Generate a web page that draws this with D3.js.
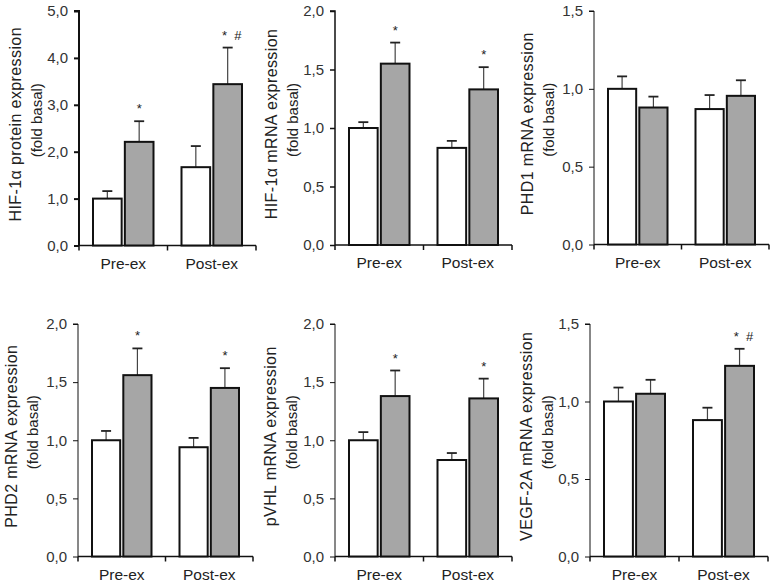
<!DOCTYPE html>
<html><head><meta charset="utf-8">
<script src="https://cdn.jsdelivr.net/npm/d3@7"></script>
<style>body{margin:0;background:#fff}svg{display:block}text{font-family:"Liberation Sans",Arial,sans-serif}</style>
</head><body><svg id="c" width="773" height="586"></svg>
<script>
const categories = ["Pre-ex", "Post-ex"];
const series = ["control", "treated"];
// values [pre-white, pre-gray], [post-white, post-gray]
const hif1aProtein     = [[1.00, 2.21], [1.67, 3.44]];
const hif1aProteinErr  = [[0.16, 0.44], [0.45, 0.78]];
const hif1aMrna        = [[1.00, 1.55], [0.83, 1.33]];
const hif1aMrnaErr     = [[0.05, 0.18], [0.06, 0.19]];
const phd1Mrna         = [[1.00, 0.88], [0.87, 0.955]];
const phd1MrnaErr      = [[0.08, 0.07], [0.09, 0.10]];
const phd2Mrna         = [[1.00, 1.56], [0.94, 1.45]];
const phd2MrnaErr      = [[0.08, 0.23], [0.08, 0.17]];
const pvhlMrna         = [[1.00, 1.38], [0.83, 1.36]];
const pvhlMrnaErr      = [[0.07, 0.22], [0.06, 0.17]];
const vegfMrna         = [[1.00, 1.05], [0.88, 1.23]];
const vegfMrnaErr      = [[0.09, 0.09], [0.08, 0.11]];
const yTicks5  = [0, 1, 2, 3, 4, 5];
const yTicks2  = [0, 0.5, 1, 1.5, 2];
const yTicks15 = [0, 0.5, 1, 1.5];
const annotations1 = [["", "*"], ["", "* #"]];
const annotations2 = [["", "*"], ["", "*"]];
const annotations3 = [["", ""], ["", ""]];
const annotations4 = [["", "*"], ["", "*"]];
const annotations5 = [["", "*"], ["", "*"]];
const annotations6 = [["", ""], ["", "* #"]];
const labels = [
  ["HIF-1α protein expression", "(fold basal)"],
  ["HIF-1α mRNA expression", "(fold basal)"],
  ["PHD1 mRNA expression", "(fold basal)"],
  ["PHD2 mRNA expression", "(fold basal)"],
  ["pVHL mRNA expression", "(fold basal)"],
  ["VEGF-2A mRNA expression", "(fold basal)"]
];

const panels = [
  {vals: hif1aProtein, errs: hif1aProteinErr, ticks: yTicks5, ann: annotations1, lab: labels[0],
   x0: 79, x1: 256, yTop: 11, yBot: 245.5, lx: 15, aw: 2},
  {vals: hif1aMrna, errs: hif1aMrnaErr, ticks: yTicks2, ann: annotations2, lab: labels[1],
   x0: 335, x1: 512, yTop: 11, yBot: 245, lx: 271, aw: 1.5},
  {vals: phd1Mrna, errs: phd1MrnaErr, ticks: yTicks15, ann: annotations3, lab: labels[2],
   x0: 594, x1: 769, yTop: 11, yBot: 244.5, lx: 527, aw: 1},
  {vals: phd2Mrna, errs: phd2MrnaErr, ticks: yTicks2, ann: annotations4, lab: labels[3],
   x0: 78, x1: 253, yTop: 324, yBot: 556.5, lx: 11, aw: 1},
  {vals: pvhlMrna, errs: pvhlMrnaErr, ticks: yTicks2, ann: annotations5, lab: labels[4],
   x0: 335, x1: 512, yTop: 324, yBot: 556.5, lx: 270, aw: 1},
  {vals: vegfMrna, errs: vegfMrnaErr, ticks: yTicks15, ann: annotations6, lab: labels[5],
   x0: 590, x1: 768, yTop: 324, yBot: 556.5, lx: 526, aw: 1}
];

const svg = d3.select("#c");
const fmt = d => d3.format(".1f")(d).replace(".", ",");

panels.forEach(p => {
  const g = svg.append("g");
  const yMax = d3.max(p.ticks);
  const y = d3.scaleLinear().domain([0, yMax]).range([p.yBot, p.yTop]);
  const x = d3.scaleBand().domain(categories).range([p.x0, p.x1]).paddingInner(0).paddingOuter(0);
  const bw = x.bandwidth();
  const xs = d3.scaleBand().domain(series).range([14, bw - 14]).paddingInner(0.1);

  // y axis
  const ya = d3.axisLeft(y).tickValues(p.ticks).tickFormat(fmt).tickSize(5).tickPadding(6);
  const yg = g.append("g").attr("transform", `translate(${p.x0},0)`).call(ya);
  yg.select(".domain").attr("stroke", "#111").attr("stroke-width", p.aw).attr("d", `M-5,${p.yTop}H0V${p.yBot}`);
  yg.selectAll(".tick line").attr("stroke", "#111").attr("stroke-width", p.aw);
  yg.selectAll(".tick text").attr("font-size", 15).attr("fill", "#333").attr("font-family", "Liberation Sans, Arial, sans-serif");

  // x axis
  const xa = d3.axisBottom(x).tickValues([]).tickSize(0);
  const xg = g.append("g").attr("transform", `translate(0,${p.yBot})`).call(xa);
  xg.select(".domain").attr("stroke", "#111").attr("stroke-width", 1.5).attr("d", `M${p.x0},0H${p.x1}`);
  [p.x0, p.x0 + bw, p.x1].forEach(t => xg.append("line").attr("x1", t).attr("x2", t).attr("y1", 0).attr("y2", 5).attr("stroke", "#111").attr("stroke-width", 1.5));
  categories.forEach(c => xg.append("text").attr("x", x(c) + bw / 2).attr("y", 23).attr("text-anchor", "middle")
    .attr("font-size", 15.5).attr("fill", "#222").text(c));

  categories.forEach((c, ci) => {
    series.forEach((s, si) => {
      const v = p.vals[ci][si], e = p.errs[ci][si];
      const bx = x(c) + xs(s), w = xs.bandwidth(), cx = bx + w / 2;
      // error bar
      g.append("line").attr("x1", cx).attr("x2", cx).attr("y1", y(v)).attr("y2", y(v + e)).attr("stroke", "#444").attr("stroke-width", 1.2);
      g.append("line").attr("x1", cx - 5).attr("x2", cx + 5).attr("y1", y(v + e)).attr("y2", y(v + e)).attr("stroke", "#222").attr("stroke-width", 1.8);
      g.append("rect").attr("x", bx).attr("y", y(v)).attr("width", w).attr("height", p.yBot - y(v))
        .attr("fill", si === 0 ? "#fff" : "#a6a6a6").attr("stroke", "#111").attr("stroke-width", 2);
      const a = p.ann[ci][si];
      if (a) {
        g.append("text").attr("x", cx + (a.length > 1 ? 4 : 0)).attr("y", y(v + e) - 8).attr("text-anchor", "middle")
          .attr("font-size", 13).attr("fill", "#222").attr("xml:space", "preserve").text(a.length > 1 ? "*  #" : a);
      }
    });
  });

  // y label
  const cy = (p.yTop + p.yBot) / 2 - 4;
  p.lab.forEach((t, i) => {
    g.append("text").attr("transform", `translate(${p.lx + 6 + i * 21},${cy - i * 4}) rotate(-90)`).attr("text-anchor", "middle")
      .attr("font-size", i === 0 ? 16 : 15).attr("letter-spacing", i === 0 ? 0.4 : 0).attr("fill", "#222").text(t);
  });
});
</script></body></html>
